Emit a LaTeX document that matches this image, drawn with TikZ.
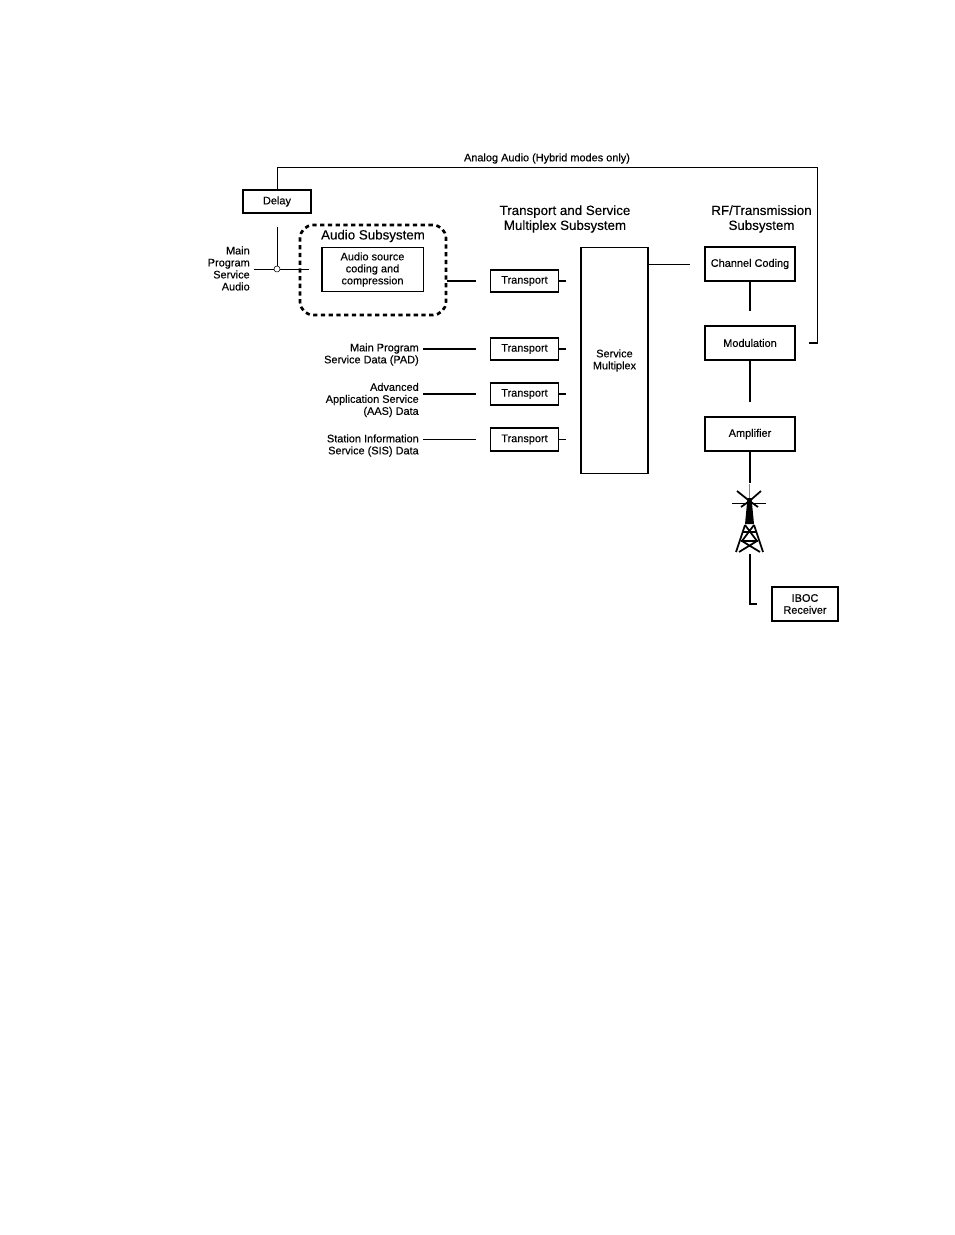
\documentclass[tikz,border=0pt]{standalone}
\usepackage{fontspec}
\setmainfont[FakeBold=0.25]{Liberation Sans}
\usetikzlibrary{positioning}

\begin{document}
\begin{tikzpicture}[x=0.75pt, y=-0.75pt,
    box/.style={rectangle, draw=black, line width=1.4pt, inner sep=0pt, align=center, font=\fontsize{8.2}{9}\selectfont},
    label/.style={anchor=east, inner sep=0pt, align=right, font=\fontsize{8.2}{9}\selectfont},
    head/.style={inner sep=0pt, align=center, font=\fontsize{10}{11.2}\selectfont},
    thin line/.style={line width=0.7pt},
    thick line/.style={line width=1.5pt},
    gap/.style={shorten >=10.5pt}
]
\useasboundingbox (0,0) rectangle (954,1235);

% Headers
\node[head] (htop) at (547,158.5) {\fontsize{8.2}{9}\selectfont Analog Audio (Hybrid modes only)};
\node[head] (htrans) at (565,219) {Transport and Service\\Multiplex Subsystem};
\node[head] (hrf) at (761.5,219) {RF/Transmission\\Subsystem};

% Left column
\node[box, minimum width=51pt, minimum height=17.5pt] (delay) at (277,201.5) {Delay};
\node[rectangle, draw=black, line width=2pt, dash pattern=on 3.2pt off 2.6pt, rounded corners=10pt, minimum width=109.5pt, minimum height=67.5pt] (audsub) at (373,270) {};
\node[head] (audtitle) at (373,236) {Audio Subsystem};
\node[box, line width=1pt, minimum width=76pt, minimum height=33pt] (audsrc) at (372.5,269.5) {Audio source\\coding and\\compression};
\node[label] (lmain) at (250,268.5) {Main\\Program\\Service\\Audio};

% Data labels
\node[label] (lpad) at (419,354.5) {Main Program\\Service Data (PAD)};
\node[label] (laas) at (419,400) {Advanced\\Application Service\\(AAS) Data};
\node[label] (lsis) at (419,445.5) {Station Information\\Service (SIS) Data};

% Transport column
\node[box, minimum width=51pt, minimum height=17pt] (tr1) at (524.5,281) {Transport};
\node[box, minimum width=51pt, minimum height=17pt] (tr2) at (524.5,349) {Transport};
\node[box, minimum width=51pt, minimum height=17pt] (tr3) at (524.5,394) {Transport};
\node[box, minimum width=51pt, minimum height=17pt] (tr4) at (524.5,439.5) {Transport};
\node[box, minimum width=50.5pt, minimum height=169.5pt] (mux) at (614.5,360.5) {Service\\Multiplex};

% RF column
\node[box, minimum width=68pt, minimum height=25.5pt] (chan) at (750,264) {Channel Coding};
\node[box, minimum width=68pt, minimum height=25.5pt] (mod) at (750,343) {Modulation};
\node[box, minimum width=68pt, minimum height=25.5pt] (amp) at (750,434) {Amplifier};
\node[box, minimum width=49pt, minimum height=25.5pt] (iboc) at (805,604) {IBOC\\Receiver};

% Free ends
\coordinate (topL) at (277,167);
\coordinate (topR) at (817,167);
\coordinate (modR) at (817,343);
\coordinate (inL) at (254,269);
\coordinate (inR) at (309,269);
\coordinate (towtop) at (750,483);
\coordinate (towbot) at (750,554);
\coordinate (rxcor) at (750,604);

% Audio input and delay
\draw[thin line] (inL) -- (inR);
\node[circle, draw=black, fill=white, line width=0.4pt, inner sep=0pt, minimum size=4.5pt] (junc) at (277,269) {};
\draw[thin line, shorten <=9.75pt] (delay.south) -- (junc);
\draw[thin line] (delay.north) -- (topL) -- (topR) -- (modR) -- ++(-8,0);
\draw[thick line] (modR) -- ++(-8,0);

% Into transport
\draw[thick line, gap] (audsub.east |- tr1) -- (tr1.west);
\draw[thick line, gap, shorten <=3pt] (lpad.east |- tr2) -- (tr2.west);
\draw[thick line, gap, shorten <=3pt] (laas.east |- tr3) -- (tr3.west);
\draw[thin line, gap, shorten <=3pt] (lsis.east |- tr4) -- (tr4.west);

% Into multiplex
\draw[thick line, gap] (tr1.east) -- (mux.west |- tr1);
\draw[thick line, gap] (tr2.east) -- (mux.west |- tr2);
\draw[thick line, gap] (tr3.east) -- (mux.west |- tr3);
\draw[thin line, gap] (tr4.east) -- (mux.west |- tr4);

% RF chain
\draw[thin line, gap] (mux.east |- chan) -- (chan.west);
\draw[thick line, gap] (chan.south) -- (mod.north);
\draw[thick line, gap] (mod.south) -- (amp.north);
\draw[thick line] (amp.south) -- (towtop);
\draw[thick line, shorten >=11pt] (towbot) -- (rxcor) -- (iboc.west);

% Tower
\begin{scope}[line width=1.3pt]
  \draw[gray, line width=1pt] (749.5,484) -- (749.5,500);
  \fill (747.5,498) -- (751.5,498) -- (754,524) -- (745,524) -- cycle;
  \draw (736,552) -- (745,525) (763,552) -- (754,525);
  \draw (745,525) -- (757,541) -- (739,552) (754,525) -- (742,541) -- (760,552);
  \draw (743,532) -- (756,532) (741,541) -- (758,541);
  \draw[line width=0.9pt] (732,503.5) -- (766,503.5);
  \draw[line width=1.3pt] (737,491) -- (749.5,501) -- (761,491);
  \draw[line width=1.3pt] (741,507) -- (749.5,501) -- (758,507);
\end{scope}
\end{tikzpicture}
\end{document}
